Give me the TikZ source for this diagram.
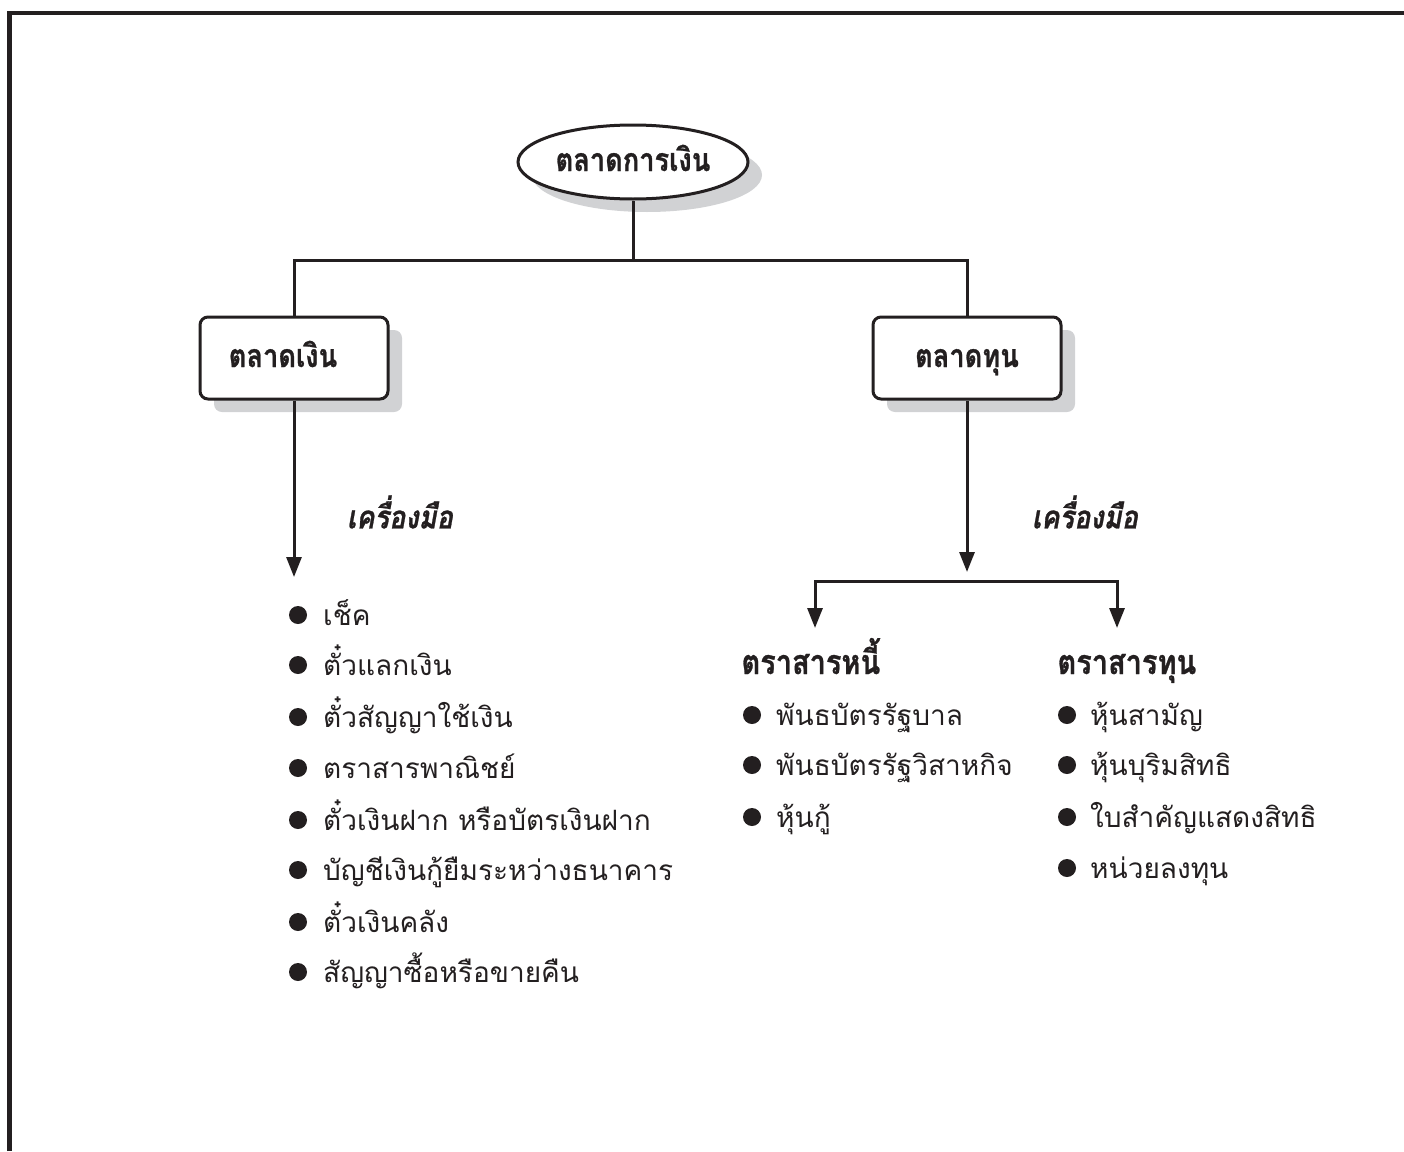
\documentclass[tikz,border=0pt]{standalone}
\usepackage{fontspec}
\setmainfont{Loma}[Script=Thai]
\newfontfamily\condthai[Script=Thai, FakeStretch=0.85, FakeBold=0.8]{Loma}
\usetikzlibrary{arrows.meta,shapes.geometric,shadows}
\definecolor{ink}{HTML}{231F20}
\definecolor{shade}{HTML}{D1D2D4}
\tikzset{
  conn/.style={line width=3pt, draw=ink},
  tip/.style={-{Triangle[length=20pt,width=15pt]}},
  sh/.style={drop shadow={shadow xshift=14pt, shadow yshift=-13pt, fill=shade, opacity=1}},
  boxnode/.style={draw=ink, line width=3pt, rounded corners=8pt, fill=white, sh,
    minimum width=188pt, minimum height=82pt, inner sep=0pt, text height=24pt, text depth=6pt,
    font=\condthai\fontsize{32}{36}\selectfont\bfseries, text=ink},
  topnode/.style={draw=ink, line width=3pt, ellipse, fill=white, sh,
    minimum width=230pt, minimum height=74pt, inner sep=0pt, text height=24pt, text depth=6pt,
    font=\condthai\fontsize{32}{36}\selectfont\bfseries, text=ink},
  tool/.style={font=\condthai\fontsize{32}{36}\selectfont\bfseries\itshape, text=ink},
  head/.style={anchor=base west, font=\condthai\fontsize{34}{38}\selectfont\bfseries, text=ink},
  bul/.style={circle, fill=ink, minimum size=18pt, inner sep=0pt},
  itemtxt/.style={anchor=base west, font=\fontsize{28}{32}\selectfont, text=ink, inner sep=0pt},
}
\begin{document}
\begin{tikzpicture}[x=1pt,y=-1pt]
\useasboundingbox (0,0) rectangle (1404,1151);
\draw[draw=ink, line width=4.5pt] (9.5,1151) -- (9.5,13) -- (1404,13);

\node[topnode] (top) at (633,162) {ตลาดการเงิน};
\node[boxnode] (money) at (294,358) {\hspace*{-22pt}ตลาดเงิน};
\node[boxnode] (cap) at (967,358) {ตลาดทุน};

\coordinate (j) at (633,260);
\draw[conn] (top.south) -- (j);
\draw[conn] (money.north) |- (j) -| (cap.north);

\coordinate (lt) at (294,577);
\draw[conn, tip] (money.south) -- (lt);
\node[tool] (toolL) at (400,512) {เครื่องมือ};

\coordinate (rt) at (967,572);
\draw[conn, tip] (cap.south) -- (rt);
\node[tool] (toolR) at (1085,512) {เครื่องมือ};

\coordinate (sl) at (815,628);
\coordinate (hc) at (967,581);
\coordinate (sr) at (1117,628);
\draw[conn, {Triangle[length=20pt,width=15pt]}-{Triangle[length=20pt,width=15pt]}] (sl) |- (hc) -| (sr);

\node[head] (debt) at (738,674) {ตราสารหนี้};
\node[head] (equity) at (1054,674) {ตราสารทุน};

% left list
\foreach \i/\y/\t in {1/615/เช็ค, 2/665/ตั๋วแลกเงิน, 3/717/ตั๋วสัญญาใช้เงิน, 4/768/ตราสารพาณิชย์,
  5/820/ตั๋วเงินฝาก หรือบัตรเงินฝาก, 6/870/บัญชีเงินกู้ยืมระหว่างธนาคาร, 7/922/ตั๋วเงินคลัง, 8/972/สัญญาซื้อหรือขายคืน}{
  \node[bul] (lb\i) at (298,\y) {};
  \node[itemtxt] (lt\i) at (323,\y+10) {\t};
}
% middle list
\foreach \i/\y/\t in {1/715/พันธบัตรรัฐบาล, 2/765/พันธบัตรรัฐวิสาหกิจ, 3/817/หุ้นกู้}{
  \node[bul] (mb\i) at (752,\y) {};
  \node[itemtxt] (mt\i) at (776,\y+10) {\t};
}
% right list
\foreach \i/\y/\t in {1/715/หุ้นสามัญ, 2/765/หุ้นบุริมสิทธิ, 3/817/ใบสำคัญแสดงสิทธิ, 4/868/หน่วยลงทุน}{
  \node[bul] (rb\i) at (1067,\y) {};
  \node[itemtxt] (rt\i) at (1090,\y+10) {\t};
}
\end{tikzpicture}
\end{document}
